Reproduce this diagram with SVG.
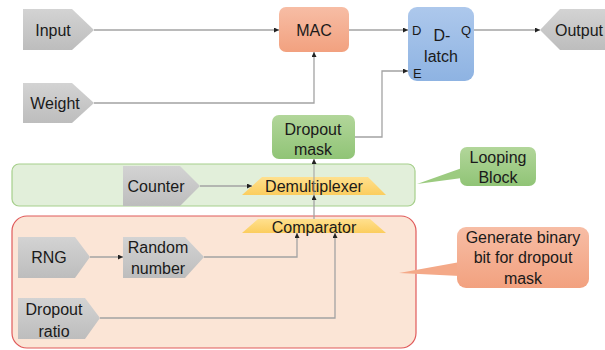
<svg xmlns="http://www.w3.org/2000/svg" width="605" height="350" viewBox="0 0 605 350">
<defs>
<linearGradient id="gGray" x1="0" y1="0" x2="0" y2="1"><stop offset="0" stop-color="#d3d3d3"/><stop offset="1" stop-color="#bdbdbd"/></linearGradient>
<linearGradient id="gOrange" x1="0" y1="0" x2="0" y2="1"><stop offset="0" stop-color="#f7bda5"/><stop offset="1" stop-color="#f2a17f"/></linearGradient>
<linearGradient id="gBlue" x1="0" y1="0" x2="0" y2="1"><stop offset="0" stop-color="#adc8ec"/><stop offset="1" stop-color="#8eb3e2"/></linearGradient>
<linearGradient id="gGreen" x1="0" y1="0" x2="0" y2="1"><stop offset="0" stop-color="#b2d69a"/><stop offset="1" stop-color="#90c476"/></linearGradient>
<linearGradient id="gYellow" x1="0" y1="0" x2="0" y2="1"><stop offset="0" stop-color="#ffe08e"/><stop offset="1" stop-color="#fbcd5e"/></linearGradient>
<marker id="arr" viewBox="0 0 6 6" refX="6" refY="3" markerWidth="5" markerHeight="5" orient="auto" markerUnits="userSpaceOnUse"><path d="M0,0 L6,3 L0,6 z" fill="#222"/></marker>
<style>
text{font-family:"Liberation Sans",Arial,sans-serif;font-size:16px;fill:#1a1a1a;}
.mid{text-anchor:middle;}
.small{font-size:13px;}
.pent{fill:url(#gGray);}
.conn{fill:none;stroke:#a3a3a3;stroke-width:1.3;marker-end:url(#arr);}
</style>
</defs>

<g id="looping-block">
<rect x="12" y="164" width="403" height="42" rx="7" fill="#e2efda" stroke="#a6cf8b" stroke-width="1.2"/>
</g>
<g id="generate-block">
<rect x="12" y="216" width="404" height="132" rx="15" fill="#fbe5d6" stroke="#e05a5a" stroke-width="1.2"/>
</g>

<g id="input">
<polygon class="pent" points="23,9 72,9 94,30 72,50 23,50"/>
<text x="53" y="36" class="mid">Input</text>
</g>
<g id="weight">
<polygon class="pent" points="23,83 72,83 94,103 72,123 23,123"/>
<text x="55" y="109" class="mid">Weight</text>
</g>
<g id="mac">
<rect x="279" y="7" width="70" height="45" rx="7" fill="url(#gOrange)"/>
<text x="314" y="36" class="mid">MAC</text>
</g>
<g id="dlatch">
<rect x="408" y="7" width="66" height="74" rx="9" fill="url(#gBlue)"/>
<text x="442" y="41" class="mid">D-</text>
<text x="441" y="62" class="mid">latch</text>
<text x="412" y="35" class="small">D</text>
<text x="461" y="35" class="small">Q</text>
<text x="413" y="78" class="small">E</text>
</g>
<g id="output">
<polygon class="pent" points="540,30 560,9 612,9 612,50 560,50"/>
<text x="555" y="36">Output</text>
</g>
<g id="dropout-mask">
<rect x="272" y="115" width="83" height="44" rx="7" fill="url(#gGreen)"/>
<text x="313" y="135" class="mid">Dropout</text>
<text x="313" y="155" class="mid">mask</text>
</g>
<g id="counter">
<polygon class="pent" points="123,166 180,166 200,186 180,206 123,206"/>
<text x="156" y="192" class="mid">Counter</text>
</g>
<g id="demultiplexer">
<polygon points="262,177 368,177 386,195 242,195" fill="url(#gYellow)"/>
<text x="314" y="192" class="mid">Demultiplexer</text>
</g>
<g id="comparator">
<polygon points="258,219 370,219 386,233 242,233" fill="url(#gYellow)"/>
<text x="314" y="233" class="mid">Comparator</text>
</g>
<g id="rng">
<polygon class="pent" points="18,237 75,237 90,257 75,278 18,278"/>
<text x="49" y="263" class="mid">RNG</text>
</g>
<g id="random-number">
<polygon class="pent" points="123,237 185,237 204,257 185,278 123,278"/>
<text x="158" y="253" class="mid">Random</text>
<text x="158" y="274" class="mid">number</text>
</g>
<g id="dropout-ratio">
<polygon class="pent" points="18,298 85,298 100,318 85,339 18,339"/>
<text x="54" y="315" class="mid">Dropout</text>
<text x="54" y="337" class="mid">ratio</text>
</g>

<g id="connectors">
<polyline class="conn" points="94,30 279,30"/>
<polyline class="conn" points="94,103 314,103 314,52"/>
<polyline class="conn" points="349,30 408,30"/>
<polyline class="conn" points="474,30 540,30"/>
<polyline class="conn" points="355,137 382,137 382,71 408,71"/>
<polyline class="conn" points="200,186 252,186"/>
<polyline class="conn" points="314,219 314,195"/>
<polyline class="conn" points="314,195 314,159" style="stroke-opacity:0.8"/>
<polyline class="conn" points="90,257 123,257"/>
<polyline class="conn" points="204,257 297,257 297,233"/>
<polyline class="conn" points="100,318 335,318 335,233"/>
</g>

<g id="looping-callout">
<polygon points="462,168 417,184 462,178" fill="#9ccb80"/>
<rect x="460" y="147" width="76" height="39" rx="7" fill="url(#gGreen)"/>
<text x="498" y="163" class="mid">Looping</text>
<text x="498" y="183" class="mid">Block</text>
</g>
<g id="generate-callout">
<polygon points="460,262 399,273 460,276" fill="#f4a988"/>
<rect x="457" y="227" width="132" height="61" rx="9" fill="url(#gOrange)"/>
<text x="523" y="243" class="mid">Generate binary</text>
<text x="523" y="263" class="mid">bit for dropout</text>
<text x="523" y="284" class="mid">mask</text>
</g>
</svg>
